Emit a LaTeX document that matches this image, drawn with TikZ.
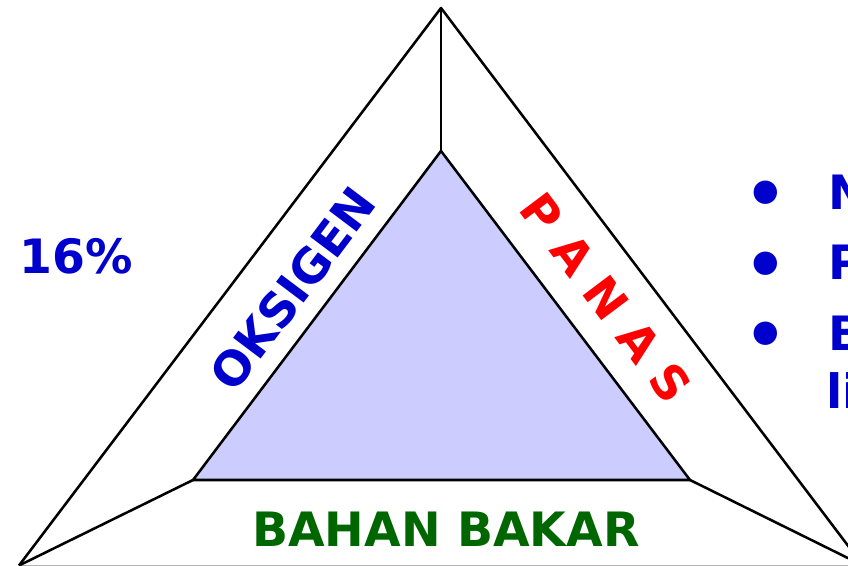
\documentclass[tikz,border=0pt]{standalone}
\usepackage{fontspec}
\setmainfont{DejaVu Sans}
\definecolor{tblue}{RGB}{0,0,204}
\definecolor{tred}{RGB}{255,0,0}
\definecolor{tgreen}{RGB}{0,102,0}
\definecolor{tfill}{RGB}{204,204,255}
\begin{document}
\begin{tikzpicture}[x=0.75pt,y=-0.75pt,
  edge/.style={line width=1.9pt,line join=round},
  big/.style={font=\fontsize{35.5}{40}\selectfont\bfseries,inner sep=0pt},
  dot/.style={font=\fontsize{50}{50}\selectfont\bfseries,inner sep=0pt,text=tblue},
]
\useasboundingbox (0,0) rectangle (848,566);
\clip (0,0) rectangle (848,566);
% vertices
\coordinate (OA) at (441,8);
\coordinate (OL) at (19,565.5);
\coordinate (OR) at (863,565.5);
\coordinate (IA) at (441,151);
\coordinate (IL) at (193,480);
\coordinate (IR) at (690,480);
% inner triangle
\filldraw[edge,fill=tfill] (IA) -- (IL) -- (IR) -- cycle;
% outer triangle
\draw[edge] (OL) -- (OA) -- (OR);
\draw[gray!60,line width=0.75pt] (OL) -- (OR);
% connectors
\draw[edge] (OA) -- (IA);
\draw[edge] (OL) -- (IL);
\draw[edge] (OR) -- (IR);
% labels
\node[big,text=tblue,rotate=53] (oks) at (293,289) {OKSIGEN};
\node[big,text=tred,rotate=-53] (pan) at (606,298) {P A N A S};
\node[big,text=tgreen] (bb) at (446,529) {BAHAN BAKAR};
\node[big,text=tblue] (pct) at (76,256) {16\%};
% bullets
\node[dot,anchor=base] (b1) at (766,218) {•};
\node[dot,anchor=base] (b2) at (766,288) {•};
\node[dot,anchor=base] (b3) at (766,358) {•};
\node[big,text=tblue,anchor=base west] (t1) at (828,210) {N};
\node[big,text=tblue,anchor=base west] (t2) at (828,280) {P};
\node[big,text=tblue,anchor=base west] (t3) at (828,350) {B};
\node[big,text=tblue,anchor=base west] (t4) at (826,408) {li};
\end{tikzpicture}
\end{document}
